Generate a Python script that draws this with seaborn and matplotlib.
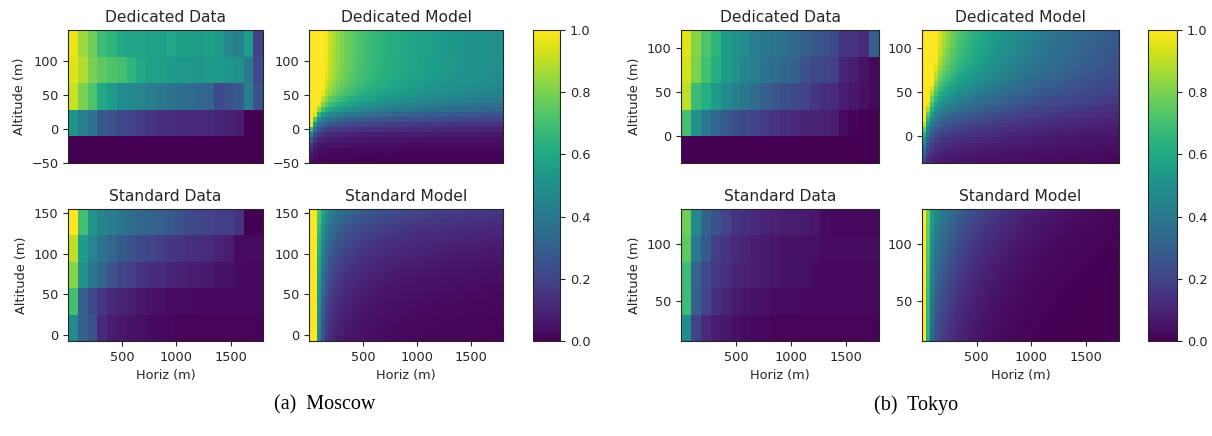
import numpy as np
import pandas as pd
import matplotlib
matplotlib.use("Agg")
import matplotlib.pyplot as plt
import seaborn as sns

# ------------------------------------------------------------------ data
horiz_range = [0, 1800]            # metres, shared horizontal extent
horiz_ticks = [500, 1000, 1500]

# measured cell grids (rows listed from highest altitude to lowest)
moscow_ded_alt = [146, -50]        # top, bottom of altitude extent (m)
moscow_ded_data = [
    [0.97, 0.85, 0.78, 0.68, 0.65, 0.60, 0.58, 0.58, 0.57, 0.57, 0.60, 0.56, 0.56, 0.55, 0.57, 0.55, 0.45, 0.43, 0.55, 0.20],
    [0.95, 0.88, 0.80, 0.75, 0.72, 0.70, 0.65, 0.60, 0.57, 0.56, 0.55, 0.53, 0.53, 0.52, 0.55, 0.54, 0.52, 0.50, 0.40, 0.22],
    [0.92, 0.80, 0.72, 0.60, 0.55, 0.48, 0.47, 0.45, 0.42, 0.40, 0.38, 0.36, 0.35, 0.33, 0.32, 0.22, 0.25, 0.28, 0.42, 0.25],
    [0.50, 0.42, 0.38, 0.28, 0.25, 0.22, 0.20, 0.17, 0.15, 0.14, 0.13, 0.12, 0.12, 0.11, 0.11, 0.10, 0.09, 0.08, 0.00, 0.00],
    [0.00, 0.00, 0.00, 0.00, 0.00, 0.00, 0.00, 0.00, 0.00, 0.00, 0.00, 0.00, 0.00, 0.00, 0.00, 0.00, 0.00, 0.00, 0.00, 0.00],
]
moscow_ded_yticks = [-50, 0, 50, 100]

moscow_std_alt = [155, -8]
moscow_std_data = [
    [1.00, 0.70, 0.52, 0.45, 0.42, 0.38, 0.35, 0.33, 0.32, 0.30, 0.28, 0.25, 0.22, 0.21, 0.20, 0.18, 0.18, 0.15, 0.00, 0.00],
    [0.90, 0.55, 0.45, 0.38, 0.33, 0.28, 0.25, 0.22, 0.20, 0.18, 0.16, 0.15, 0.14, 0.13, 0.12, 0.10, 0.08, 0.03, 0.03, 0.03],
    [0.82, 0.50, 0.40, 0.32, 0.25, 0.20, 0.18, 0.15, 0.13, 0.12, 0.10, 0.09, 0.08, 0.08, 0.07, 0.05, 0.04, 0.03, 0.02, 0.02],
    [0.70, 0.30, 0.22, 0.16, 0.12, 0.10, 0.08, 0.06, 0.05, 0.04, 0.03, 0.03, 0.03, 0.02, 0.02, 0.02, 0.02, 0.02, 0.02, 0.02],
    [0.48, 0.30, 0.25, 0.12, 0.08, 0.06, 0.05, 0.04, 0.03, 0.02, 0.02, 0.01, 0.01, 0.01, 0.01, 0.01, 0.01, 0.01, 0.01, 0.01],
]
moscow_std_yticks = [0, 50, 100, 150]

tokyo_ded_alt = [120, -31]
tokyo_ded_data = [
    [0.95, 0.82, 0.72, 0.65, 0.55, 0.50, 0.48, 0.42, 0.40, 0.38, 0.36, 0.33, 0.30, 0.27, 0.25, 0.22, 0.15, 0.15, 0.12, 0.30],
    [0.93, 0.80, 0.70, 0.62, 0.55, 0.50, 0.45, 0.42, 0.38, 0.35, 0.33, 0.30, 0.25, 0.22, 0.20, 0.18, 0.10, 0.08, 0.05, 0.02],
    [0.90, 0.68, 0.62, 0.55, 0.48, 0.43, 0.40, 0.35, 0.30, 0.27, 0.24, 0.22, 0.20, 0.16, 0.14, 0.12, 0.08, 0.06, 0.04, 0.02],
    [0.70, 0.50, 0.40, 0.33, 0.28, 0.24, 0.22, 0.20, 0.17, 0.15, 0.13, 0.12, 0.10, 0.10, 0.09, 0.08, 0.03, 0.01, 0.00, 0.00],
    [0.00, 0.00, 0.00, 0.00, 0.00, 0.00, 0.00, 0.00, 0.00, 0.00, 0.00, 0.00, 0.00, 0.00, 0.00, 0.00, 0.00, 0.00, 0.00, 0.00],
]
tokyo_ded_yticks = [0, 50, 100]

tokyo_std_alt = [131, 15]
tokyo_std_data = [
    [0.78, 0.48, 0.32, 0.25, 0.20, 0.15, 0.14, 0.12, 0.10, 0.09, 0.08, 0.08, 0.07, 0.06, 0.03, 0.02, 0.02, 0.02, 0.02, 0.02],
    [0.75, 0.40, 0.28, 0.18, 0.15, 0.12, 0.10, 0.08, 0.07, 0.06, 0.05, 0.05, 0.04, 0.04, 0.03, 0.03, 0.03, 0.03, 0.03, 0.03],
    [0.68, 0.32, 0.22, 0.16, 0.13, 0.10, 0.09, 0.08, 0.07, 0.06, 0.05, 0.05, 0.04, 0.03, 0.02, 0.02, 0.02, 0.02, 0.02, 0.02],
    [0.68, 0.30, 0.20, 0.14, 0.10, 0.08, 0.06, 0.05, 0.04, 0.03, 0.03, 0.03, 0.02, 0.02, 0.02, 0.02, 0.02, 0.02, 0.02, 0.02],
    [0.48, 0.20, 0.12, 0.08, 0.06, 0.04, 0.03, 0.02, 0.02, 0.01, 0.01, 0.01, 0.01, 0.01, 0.01, 0.01, 0.01, 0.01, 0.01, 0.01],
]
tokyo_std_yticks = [50, 100]

# fitted model parameters (smooth model panels)
# horizontal profile: a, p, L, c, lam ; altitude gate: yc, w ; exponent slope kappa
moscow_ded_model_T = [0.58, 0.28, np.inf, 3.0, 30]
moscow_ded_model_S = [20, 15]
moscow_ded_model_k = 0.0
moscow_std_model_T = [0.22, 0.44, np.inf, 1.0, 40]
moscow_std_model_S = [-np.inf, 1]
moscow_std_model_k = 0.0105
tokyo_ded_model_T = [0.45, 0.20, 2243, 2.3, 40]
tokyo_ded_model_S = [33, 24]
tokyo_ded_model_k = 0.0
tokyo_std_model_T = [0.09, 0.0, 532, 1.5, 30]
tokyo_std_model_S = [-np.inf, 1]
tokyo_std_model_k = 0.0086
model_cols, model_rows = 50, 26

colorbar_ticks = [0.0, 0.2, 0.4, 0.6, 0.8, 1.0]
panel_titles = ["Dedicated Data", "Dedicated Model", "Standard Data", "Standard Model"]
captions = ["(a)  Moscow", "(b)  Tokyo"]


def model_grid(T, S, kappa, alt):
    a, p, L, c, lam = T
    yc, w = S
    x0, x1 = horiz_range
    dx = (x1 - x0) / model_cols
    xs = x0 + (np.arange(model_cols) + 0.5) * dx
    dy = (alt[0] - alt[1]) / model_rows
    ys = alt[0] - (np.arange(model_rows) + 0.5) * dy
    X, Y = np.meshgrid(xs, ys)
    Tx = a * (X / 1000.0) ** (-p) * np.exp(-(X - 1000.0) / L) + c * np.exp(-X / lam)
    with np.errstate(over="ignore"):
        Sy = 1.0 / (1.0 + np.exp(-(Y - yc) / w))
    k = 1.0 + kappa * (alt[0] - Y)
    return np.clip(Sy * Tx ** k, 0, 1)


# ------------------------------------------------------------------ style
sns.set_style("ticks")
plt.rcParams["font.family"] = ["DejaVu Sans"]
plt.rcParams["xtick.labelsize"] = 9.3
plt.rcParams["ytick.labelsize"] = 9.3

W, H, DPI = 1212, 436, 100
fig = plt.figure(figsize=(W / DPI, H / DPI), dpi=DPI)
fig.patch.set_facecolor("white")


def px_axes(l, t, r, b):
    return fig.add_axes([l / W, 1 - b / H, (r - l) / W, (b - t) / H])


def draw(ax, values, alt, yticks, show_x, ylabel, title, cax=None):
    arr = np.asarray(values, dtype=float)
    nrows, ncols = arr.shape
    df = pd.DataFrame(arr)
    sns.heatmap(df, ax=ax, cmap="viridis", vmin=0, vmax=1,
                cbar=cax is not None, cbar_ax=cax,
                xticklabels=False, yticklabels=False)
    x0, x1 = horiz_range
    dxc = (x1 - x0) / ncols
    dyc = (alt[0] - alt[1]) / nrows
    ax.set_yticks([(alt[0] - v) / dyc for v in yticks])
    ax.set_yticklabels([f"{v:d}".replace("-", "\u2212") for v in yticks])
    if show_x:
        ax.set_xticks([(v - x0) / dxc for v in horiz_ticks])
        ax.set_xticklabels([str(v) for v in horiz_ticks])
        ax.set_xlabel("Horiz (m)", fontsize=9.3)
    else:
        ax.set_xticks([])
    ax.set_ylabel(ylabel, fontsize=9.3)
    ax.set_title(title, fontsize=11.2, pad=6)
    ax.tick_params(axis="both", direction="out", length=3.5, width=0.8,
                   rotation=0)
    for sp in ax.spines.values():
        sp.set_visible(True)
        sp.set_linewidth(0.8)
        sp.set_color(".15")


layouts = [
    dict(dd=(68, 30, 263, 163), dm=(309, 30, 503, 163),
         sd=(68, 209, 263, 341), sm=(309, 209, 503, 341),
         cb=(533, 30, 560, 341), cap=(325, 405)),
    dict(dd=(681, 30, 879, 163), dm=(922, 30, 1119, 163),
         sd=(681, 209, 879, 341), sm=(922, 209, 1119, 341),
         cb=(1148, 30, 1177, 341), cap=(916, 405)),
]

cities = [
    dict(dd=moscow_ded_data, dalt=moscow_ded_alt, dyt=moscow_ded_yticks,
         sd=moscow_std_data, salt=moscow_std_alt, syt=moscow_std_yticks,
         dT=moscow_ded_model_T, dS=moscow_ded_model_S, dk=moscow_ded_model_k,
         sT=moscow_std_model_T, sS=moscow_std_model_S, sk=moscow_std_model_k),
    dict(dd=tokyo_ded_data, dalt=tokyo_ded_alt, dyt=tokyo_ded_yticks,
         sd=tokyo_std_data, salt=tokyo_std_alt, syt=tokyo_std_yticks,
         dT=tokyo_ded_model_T, dS=tokyo_ded_model_S, dk=tokyo_ded_model_k,
         sT=tokyo_std_model_T, sS=tokyo_std_model_S, sk=tokyo_std_model_k),
]

for lay, city, cap in zip(layouts, cities, captions):
    ax_dd = px_axes(*lay["dd"])
    ax_dm = px_axes(*lay["dm"])
    ax_sd = px_axes(*lay["sd"])
    ax_sm = px_axes(*lay["sm"])
    cax = px_axes(*lay["cb"])

    draw(ax_dd, city["dd"], city["dalt"], city["dyt"], False, "Altitude (m)", panel_titles[0])
    draw(ax_dm, model_grid(city["dT"], city["dS"], city["dk"], city["dalt"]),
         city["dalt"], city["dyt"], False, "", panel_titles[1], cax=cax)
    draw(ax_sd, city["sd"], city["salt"], city["syt"], True, "Altitude (m)", panel_titles[2])
    draw(ax_sm, model_grid(city["sT"], city["sS"], city["sk"], city["salt"]),
         city["salt"], city["syt"], True, "", panel_titles[3])

    cb = ax_dm.collections[0].colorbar
    cb.set_ticks(colorbar_ticks)
    cb.set_ticklabels([f"{v:.1f}" for v in colorbar_ticks])
    cb.outline.set_visible(True)
    cb.outline.set_linewidth(0.8)
    cb.outline.set_edgecolor(".15")
    cax.tick_params(labelsize=9.3, length=3.5, width=0.8)

    fig.text(lay["cap"][0] / W, 1 - lay["cap"][1] / H, cap,
             ha="center", va="center", fontsize=14.5,
             family=["Liberation Serif", "DejaVu Serif"], color="black")

fig.savefig("out.png", dpi=DPI, facecolor="white")
